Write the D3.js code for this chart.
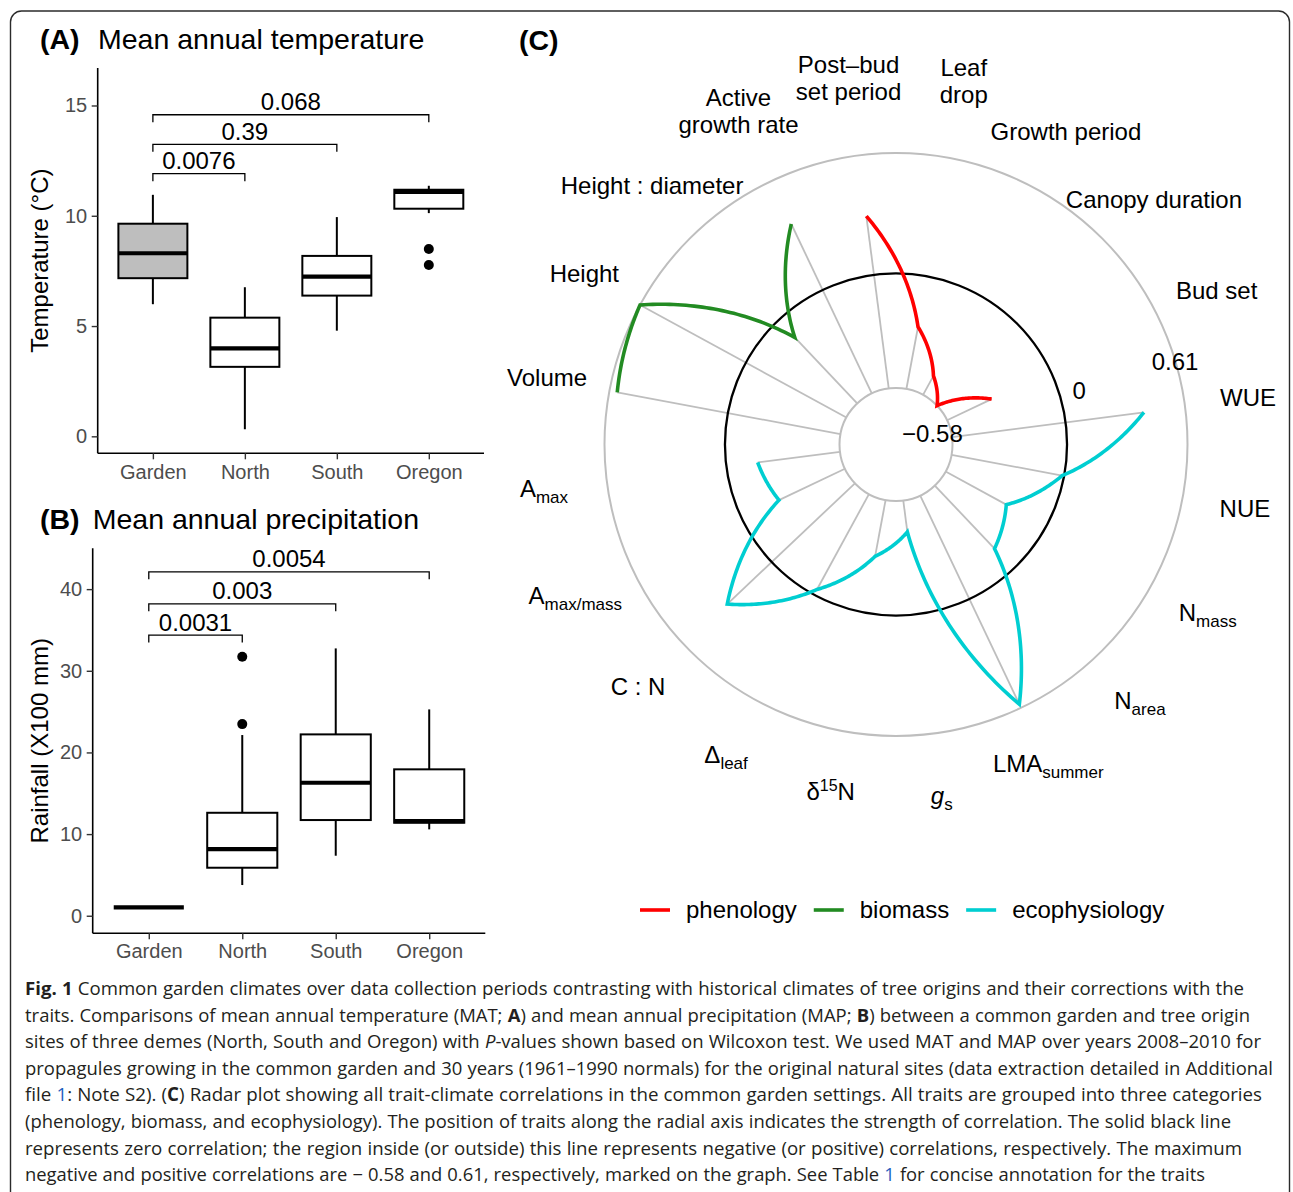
<!DOCTYPE html>
<html>
<head>
<meta charset="utf-8">
<script src="https://cdn.jsdelivr.net/npm/d3@7"></script>
<style>
  body { margin: 0; background: #fff; }
  svg { font-family: "Liberation Sans", Arial, Helvetica, sans-serif; }
</style>
</head>
<body>
<svg id="fig" width="1293" height="1192"></svg>
<script>
// ---------------- DATA ----------------
const groups = ["Garden", "North", "South", "Oregon"];

// Panel A: mean annual temperature (°C), box statistics per group
const tempLow    = [5.99, 0.32, 4.79, 10.12];
const tempQ1     = [7.17, 3.15, 6.38, 10.32];
const tempMedian = [8.30, 3.99, 7.24, 11.08];
const tempQ3     = [9.64, 5.38, 8.18, 11.18];
const tempHigh   = [10.95, 6.76, 9.94, 11.36];
const tempOutliers = [[], [], [], [8.49, 7.77]];
const tempTicks = [0, 5, 10, 15];
const tempPairs = [["Garden", "North"], ["Garden", "South"], ["Garden", "Oregon"]];
const tempPvalues = ["0.0076", "0.39", "0.068"];
const tempBracketY = [11.91, 13.24, 14.58];

// Panel B: mean annual precipitation (x100 mm)
const rainLow    = [1.03, 3.76, 7.35, 10.58];
const rainQ1     = [1.03, 5.88, 11.72, 11.39];
const rainMedian = [1.03, 8.17, 16.29, 11.60];
const rainQ3     = [1.03, 12.61, 22.21, 17.93];
const rainHigh   = [1.03, 22.13, 32.74, 25.27];
const rainOutliers = [[], [31.71, 23.47], [], []];
const rainTicks = [0, 10, 20, 30, 40];
const rainPairs = [["Garden", "North"], ["Garden", "South"], ["Garden", "Oregon"]];
const rainPvalues = ["0.0031", "0.003", "0.0054"];
const rainBracketY = [34.37, 38.20, 42.12];

// Panel C: trait-climate correlations
const phenologyTraits = ["Post–bud set period", "Leaf drop", "Growth period", "Canopy duration", "Bud set"];
const phenologyValues = [0.30, -0.26, -0.47, -0.58, -0.33];
const ecophysiologyTraits = ["WUE", "NUE", "Nmass", "Narea", "LMAsummer", "gs", "d15N", "Dleaf", "C : N", "Amax/mass", "Amax"];
const ecophysiologyValues = [0.40, -0.01, -0.23, -0.14, 0.59, -0.42, -0.29, -0.03, 0.31, -0.21, -0.16];
const biomassTraits = ["Volume", "Height", "Height : diameter", "Active growth rate"];
const biomassValues = [0.57, 0.61, -0.12, 0.37];
const traitOrder = [...phenologyTraits, ...ecophysiologyTraits, ...biomassTraits];
// label markup: _{..} subscript, ^{..} superscript, *..* italic, | new line
const traitLabels = {
  "Post–bud set period": "Post–bud|set period",
  "Leaf drop": "Leaf|drop",
  "Growth period": "Growth period",
  "Canopy duration": "Canopy duration",
  "Bud set": "Bud set",
  "WUE": "WUE",
  "NUE": "NUE",
  "Nmass": "N_{mass}",
  "Narea": "N_{area}",
  "LMAsummer": "LMA_{summer}",
  "gs": "*g*_{s}",
  "d15N": "δ^{15}N",
  "Dleaf": "Δ_{leaf}",
  "C : N": "C : N",
  "Amax/mass": "A_{max/mass}",
  "Amax": "A_{max}",
  "Volume": "Volume",
  "Height": "Height",
  "Height : diameter": "Height : diameter",
  "Active growth rate": "Active|growth rate"
};
const corrRange = [-0.58, 0.61];
const corrValueLabels = ["−0.58", "0", "0.61"];
const corrValueLabelValues = [-0.58, 0, 0.61];
const seriesNames = ["phenology", "biomass", "ecophysiology"];

const captionLines = [
  [["Fig. 1", "b"], [" Common garden climates over data collection periods contrasting with historical climates of tree origins and their corrections with the", ""]],
  [["traits. Comparisons of mean annual temperature (MAT; ", ""], ["A", "b"], [") and mean annual precipitation (MAP; ", ""], ["B", "b"], [") between a common garden and tree origin", ""]],
  [["sites of three demes (North, South and Oregon) with ", ""], ["P", "i"], ["-values shown based on Wilcoxon test. We used MAT and MAP over years 2008–2010 for", ""]],
  [["propagules growing in the common garden and 30 years (1961–1990 normals) for the original natural sites (data extraction detailed in Additional", ""]],
  [["file ", ""], ["1", "link"], [": Note S2). (", ""], ["C", "b"], [") Radar plot showing all trait-climate correlations in the common garden settings. All traits are grouped into three categories", ""]],
  [["(phenology, biomass, and ecophysiology). The position of traits along the radial axis indicates the strength of correlation. The solid black line", ""]],
  [["represents zero correlation; the region inside (or outside) this line represents negative (or positive) correlations, respectively. The maximum", ""]],
  [["negative and positive correlations are − 0.58 and 0.61, respectively, marked on the graph. See Table ", ""], ["1", "link"], [" for concise annotation for the traits", ""]]
];
const captionLineWidths = [1219, 1225, 1236, 1248, 1237, 1206, 1217, 1180];

// ---------------- DRAWING ----------------
const svg = d3.select("#fig");

// figure frame
svg.append("rect").attr("x", 10.5).attr("y", 11).attr("width", 1279).attr("height", 1200)
  .attr("rx", 11).attr("fill", "none").attr("stroke", "#2b2b2b").attr("stroke-width", 1.4);

function drawBoxPanel(cfg) {
  const g = svg.append("g");
  const x = d3.scalePoint().domain(groups).range([cfg.left, cfg.right]).padding(0.6);
  const y = d3.scaleLinear().domain(cfg.yDomain).range([cfg.bottom, cfg.top]);
  const bw = x.step() * 0.75;

  // title
  g.append("text").attr("x", 40).attr("y", cfg.titleY).attr("font-size", 28.5).attr("font-weight", "bold").text(cfg.tag);
  g.append("text").attr("x", cfg.titleX).attr("y", cfg.titleY).attr("font-size", 28.5).text(cfg.title);

  // axes
  const ya = g.append("g").attr("transform", `translate(${cfg.left},0)`)
    .call(d3.axisLeft(y).tickValues(cfg.ticks).tickSize(6).tickSizeOuter(0).tickPadding(4.5));
  const xa = g.append("g").attr("transform", `translate(0,${cfg.bottom})`)
    .call(d3.axisBottom(x).tickSize(6).tickSizeOuter(0).tickPadding(cfg.xPad));
  [ya, xa].forEach(a => {
    a.attr("font-family", null).attr("font-size", null);
    a.select(".domain").attr("stroke", "#000").attr("stroke-width", 1.6);
    a.selectAll(".tick line").attr("stroke", "#333").attr("stroke-width", 1.4);
    a.selectAll(".tick text").attr("fill", "#4d4d4d").attr("font-size", 20);
  });
  // extend axis lines to meet at corner
  ya.select(".domain").attr("d", `M0,${cfg.bottom}V${cfg.top}`);
  xa.select(".domain").attr("d", `M${cfg.left},0H${cfg.right}`);

  // y title
  g.append("text").attr("transform", `translate(48,${(cfg.top + cfg.bottom) / 2}) rotate(-90)`)
    .attr("text-anchor", "middle").attr("font-size", 24).text(cfg.yTitle);

  // boxes
  groups.forEach((grp, i) => {
    const cx = x(grp);
    const bx = g.append("g");
    bx.append("line").attr("x1", cx).attr("x2", cx).attr("y1", y(cfg.q3[i])).attr("y2", y(cfg.high[i]))
      .attr("stroke", "#000").attr("stroke-width", 2);
    bx.append("line").attr("x1", cx).attr("x2", cx).attr("y1", y(cfg.q1[i])).attr("y2", y(cfg.low[i]))
      .attr("stroke", "#000").attr("stroke-width", 2);
    bx.append("rect").attr("x", cx - bw / 2).attr("width", bw)
      .attr("y", y(cfg.q3[i])).attr("height", Math.max(0, y(cfg.q1[i]) - y(cfg.q3[i])))
      .attr("fill", i === 0 ? "#bebebe" : "#fff").attr("stroke", "#000").attr("stroke-width", 2);
    bx.append("line").attr("x1", cx - bw / 2).attr("x2", cx + bw / 2)
      .attr("y1", y(cfg.median[i])).attr("y2", y(cfg.median[i]))
      .attr("stroke", "#000").attr("stroke-width", 4.2);
    cfg.outliers[i].forEach(v => {
      bx.append("circle").attr("cx", cx).attr("cy", y(v)).attr("r", 5).attr("fill", "#000");
    });
  });

  // significance brackets
  cfg.pairs.forEach((p, i) => {
    const x1 = x(p[0]), x2 = x(p[1]), by = y(cfg.bracketY[i]);
    g.append("path").attr("d", `M${x1},${by + 7.5}V${by}H${x2}V${by + 7.5}`)
      .attr("fill", "none").attr("stroke", "#000").attr("stroke-width", 1.3);
    g.append("text").attr("x", (x1 + x2) / 2).attr("y", by - 4.5).attr("text-anchor", "middle")
      .attr("font-size", 24).text(cfg.pvalues[i]);
  });
}

drawBoxPanel({
  tag: "(A)", title: "Mean annual temperature", titleX: 98, titleY: 49,
  left: 97.7, right: 484, top: 68, bottom: 453.3, yDomain: [-0.77, 16.7], ticks: tempTicks, xPad: 5.5,
  yTitle: "Temperature (°C)",
  low: tempLow, q1: tempQ1, median: tempMedian, q3: tempQ3, high: tempHigh, outliers: tempOutliers,
  pairs: tempPairs, pvalues: tempPvalues, bracketY: tempBracketY
});
drawBoxPanel({
  tag: "(B)", title: "Mean annual precipitation", titleX: 92.7, titleY: 529,
  left: 92.7, right: 485.3, top: 548.3, bottom: 933.3, yDomain: [-2.15, 45], ticks: rainTicks, xPad: 5,
  yTitle: "Rainfall (X100 mm)",
  low: rainLow, q1: rainQ1, median: rainMedian, q3: rainQ3, high: rainHigh, outliers: rainOutliers,
  pairs: rainPairs, pvalues: rainPvalues, bracketY: rainBracketY
});

// ---------------- Panel C: radar ----------------
svg.append("text").attr("x", 519).attr("y", 50).attr("font-size", 28.5).attr("font-weight", "bold").text("(C)");

const RC = { cx: 896, cy: 444.5 };
const rScale = d3.scaleLinear().domain(corrRange).range([56.5, 291.5]);
const rot = -16.4 * Math.PI / 180;
const aScale = d3.scaleBand().domain(traitOrder).range([rot, rot + 2 * Math.PI]);
const ang = t => aScale(t) + aScale.bandwidth() / 2;

const radar = svg.append("g").attr("transform", `translate(${RC.cx},${RC.cy})`);

const series = [
  { name: "phenology", traits: phenologyTraits, values: phenologyValues, color: "#ff0000" },
  { name: "biomass", traits: biomassTraits, values: biomassValues, color: "#228b22" },
  { name: "ecophysiology", traits: ecophysiologyTraits, values: ecophysiologyValues, color: "#00ced1" }
];

// spokes
series.forEach(s => {
  s.traits.forEach((t, i) => {
    const a = ang(t), r0 = rScale(corrRange[0]), r1 = rScale(s.values[i]);
    radar.append("line")
      .attr("x1", r0 * Math.sin(a)).attr("y1", -r0 * Math.cos(a))
      .attr("x2", r1 * Math.sin(a)).attr("y2", -r1 * Math.cos(a))
      .attr("stroke", "#bebebe").attr("stroke-width", 1.8);
  });
});
// reference circles
[corrRange[0], corrRange[1]].forEach(v => {
  radar.append("circle").attr("r", rScale(v)).attr("fill", "none").attr("stroke", "#bebebe").attr("stroke-width", 2);
});
radar.append("circle").attr("r", rScale(0)).attr("fill", "none").attr("stroke", "#000").attr("stroke-width", 2.3);

// series paths (polar coordinate lines: straight in (angle, r) space)
const radial = d3.lineRadial().angle(d => d[0]).radius(d => d[1]);
series.forEach(s => {
  const pts = [];
  for (let i = 0; i < s.traits.length - 1; i++) {
    const a1 = ang(s.traits[i]), a2 = ang(s.traits[i + 1]);
    const r1 = rScale(s.values[i]), r2 = rScale(s.values[i + 1]);
    const n = 40;
    for (let k = 0; k < n; k++) {
      const f = k / n;
      pts.push([a1 + (a2 - a1) * f, r1 + (r2 - r1) * f]);
    }
  }
  const last = s.traits.length - 1;
  pts.push([ang(s.traits[last]), rScale(s.values[last])]);
  radar.append("path").attr("d", radial(pts)).attr("fill", "none")
    .attr("stroke", s.color).attr("stroke-width", 3.6).attr("stroke-linejoin", "miter").attr("stroke-miterlimit", 10);
});

// value labels on the radial axis
const valueNudge = [-18.5, 20, -0.5];
const valAng = (90 - 16.5) * Math.PI / 180;
corrValueLabelValues.forEach((v, i) => {
  const r = rScale(v) + valueNudge[i];
  radar.append("text").attr("x", r * Math.sin(valAng)).attr("y", -r * Math.cos(valAng))
    .attr("dy", "0.35em").attr("text-anchor", "middle").attr("font-size", 24).text(corrValueLabels[i]);
});

// trait labels
function addRich(textSel, markup) {
  const re = /(_\{[^}]*\}|\^\{[^}]*\}|\*[^*]*\*|[^_^*]+)/g;
  let m; let shift = 0;
  while ((m = re.exec(markup)) !== null) {
    const tok = m[0];
    if (tok.startsWith("_{")) {
      textSel.append("tspan").attr("font-size", 17).attr("dy", 6 - shift).text(tok.slice(2, -1));
      shift = 6;
    } else if (tok.startsWith("^{")) {
      textSel.append("tspan").attr("font-size", 16).attr("dy", -9 - shift).text(tok.slice(2, -1));
      shift = -9;
    } else if (tok.startsWith("*")) {
      textSel.append("tspan").attr("font-style", "italic").attr("dy", -shift).text(tok.slice(1, -1));
      shift = 0;
    } else {
      textSel.append("tspan").attr("dy", -shift).text(tok);
      shift = 0;
    }
  }
}
const labelR = rScale(corrRange[1]) + 63.5;
traitOrder.forEach(t => {
  const lines = traitLabels[t].split("|");
  const a = ang(t);
  const r = labelR + (lines.length - 1) * 13.5 * Math.abs(Math.cos(a));
  const lx = r * Math.sin(a), ly = -r * Math.cos(a) + 7;
  const lh = 27;
  lines.forEach((ln, j) => {
    const tx = radar.append("text").attr("x", lx)
      .attr("y", ly + (j - (lines.length - 1) / 2) * lh).attr("dy", "0.35em")
      .attr("text-anchor", "middle").attr("font-size", 24);
    addRich(tx, ln);
  });
});

// legend
const legend = svg.append("g").attr("transform", "translate(640,910)");
let lx = 0;
series.forEach(s => {
  legend.append("line").attr("x1", lx).attr("x2", lx + 30).attr("y1", 0).attr("y2", 0)
    .attr("stroke", s.color).attr("stroke-width", 3.6);
  const t = legend.append("text").attr("x", lx + 46).attr("y", 0).attr("dy", "0.35em")
    .attr("font-size", 24).text(s.name);
  lx = lx + 46 + t.node().getComputedTextLength() + 17;
});

// caption: fit each line to its width with word spacing (glyphs kept natural)
const cap = svg.append("g").style("font-family", '"Open Sans", "Noto Sans", sans-serif');
captionLines.forEach((line, i) => {
  const t = cap.append("text").attr("x", 25).attr("y", 995 + i * 26.6)
    .attr("font-size", 19).attr("fill", "#231f20");
  line.forEach(([txt, st]) => {
    const sp = t.append("tspan").text(txt);
    if (st === "b") sp.attr("font-weight", "bold");
    if (st === "i") sp.attr("font-style", "italic");
    if (st === "link") sp.attr("fill", "#1f5fbf");
  });
  const target = captionLineWidths[i];
  let natural = t.node().getComputedTextLength();
  if (natural > target) {
    t.attr("font-size", 19 * target / natural * 0.995);
    natural = t.node().getComputedTextLength();
  }
  const nSpaces = line.map(d => d[0]).join("").split(" ").length - 1;
  if (nSpaces > 0) t.attr("word-spacing", (target - natural) / nSpaces);
});
</script>
</body>
</html>
